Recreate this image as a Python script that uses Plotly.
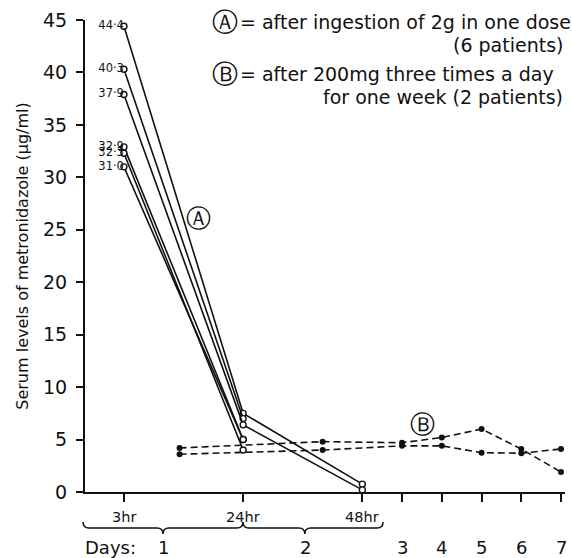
import plotly.graph_objects as go

# ---------------- data ----------------
# x axis units: 3hr=0, 24hr=3, 48hr=6, then one unit per day (day 3 = 7 ... day 7 = 11)
hr_labels = ["3hr", "24hr", "48hr"]
hr_x = [0, 3, 6]
day_labels = ["1", "2", "3", "4", "5", "6", "7"]
day_x = [1.0, 4.56, 7, 8, 9, 10, 11]

# Series A: 2 g single dose (6 patients)
a1_x = [0, 3, 6]; a1_y = [44.4, 7.5, 0.75]
a2_x = [0, 3];    a2_y = [40.3, 7.0]
a3_x = [0, 3, 6]; a3_y = [37.9, 6.4, 0.2]
a4_x = [0, 3];    a4_y = [32.9, 5.0]
a5_x = [0, 3];    a5_y = [32.3, 4.0]
a6_x = [0, 3];    a6_y = [31.0, 5.0]
a_start_labels = ["44·4", "40·3", "37·9", "32·9", "32·3", "31·0"]

# Series B: 200 mg t.i.d. for one week (2 patients)
b_x = [1.4, 5.0, 7, 8, 9, 10, 11]
b1_y = [4.2, 4.8, 4.7, 5.2, 6.0, 4.1, 1.9]
b2_y = [3.6, 4.0, 4.4, 4.4, 3.75, 3.7, 4.1]

y_ticks = [0, 5, 10, 15, 20, 25, 30, 35, 40, 45]

FONT = "DejaVu Sans"
BLACK = "#111111"

fig = go.Figure()

a_series = [(a1_x, a1_y), (a2_x, a2_y), (a3_x, a3_y),
            (a4_x, a4_y), (a5_x, a5_y), (a6_x, a6_y)]
for xs, ys in a_series:
    fig.add_trace(go.Scatter(
        x=xs, y=ys, mode="lines+markers",
        line=dict(color=BLACK, width=1.6),
        marker=dict(symbol="circle", size=6, color="white",
                    line=dict(color=BLACK, width=1.4)),
        cliponaxis=False, showlegend=False, hoverinfo="skip"))

# labels of the 3hr values
fig.add_trace(go.Scatter(
    x=[s[0][0] for s in a_series], y=[s[1][0] for s in a_series],
    mode="text", text=a_start_labels, textposition="middle left",
    textfont=dict(family=FONT, size=11.5, color=BLACK),
    cliponaxis=False, showlegend=False, hoverinfo="skip"))

for ys in (b1_y, b2_y):
    fig.add_trace(go.Scatter(
        x=b_x, y=ys, mode="lines+markers",
        line=dict(color=BLACK, width=1.6, dash="7px,4px"),
        marker=dict(symbol="circle", size=6, color=BLACK),
        cliponaxis=False, showlegend=False, hoverinfo="skip"))

# ---------------- axes ----------------
fig.update_xaxes(
    range=[-0.98, 11.1], showgrid=False, zeroline=False,
    showline=True, linecolor=BLACK, linewidth=2,
    ticks="outside", ticklen=8, tickwidth=2, tickcolor=BLACK,
    tickvals=hr_x + day_x[2:], ticktext=[""] * (len(hr_x) + len(day_x) - 2),
)
fig.update_yaxes(
    range=[0, 45], showgrid=False, zeroline=False,
    showline=True, linecolor=BLACK, linewidth=2,
    ticks="outside", ticklen=7, tickwidth=2, tickcolor=BLACK,
    tickvals=y_ticks, ticktext=[str(v) for v in y_ticks],
    tickfont=dict(family=FONT, size=19, color=BLACK),
    ticklabelstandoff=5,
    title=dict(text="Serum levels of metronidazole (µg/ml)",
               font=dict(family=FONT, size=16, color=BLACK), standoff=10),
)

ann = []
# hour labels under ticks
for lab, xv in zip(hr_labels, hr_x):
    ann.append(dict(x=xv, y=-0.053, xref="x", yref="paper", text=lab,
                    showarrow=False, xanchor="center", yanchor="middle",
                    font=dict(family=FONT, size=14.5, color=BLACK)))
# day labels
for lab, xv in zip(day_labels, day_x):
    ann.append(dict(x=xv, y=-0.1186, xref="x", yref="paper", text=lab,
                    showarrow=False, xanchor="center", yanchor="middle",
                    font=dict(family=FONT, size=18, color=BLACK)))
ann.append(dict(x=-0.004, y=-0.1186, xref="paper", yref="paper", text="Days:",
                showarrow=False, xanchor="left", yanchor="middle",
                font=dict(family=FONT, size=18, color=BLACK)))

# legend text
leg_font = dict(family=FONT, size=19, color=BLACK)
circ_font = dict(family=FONT, size=26, color=BLACK)
ann.append(dict(x=0.2604, y=0.9958, xref="paper", yref="paper", text="Ⓐ",
                showarrow=False, xanchor="left", yanchor="middle", font=circ_font))
ann.append(dict(x=0.319, y=0.9958, xref="paper", yref="paper",
                text="= after ingestion of 2g in one dose",
                showarrow=False, xanchor="left", yanchor="middle", font=leg_font))
ann.append(dict(x=1.0, y=0.947, xref="paper", yref="paper",
                text="(6 patients)",
                showarrow=False, xanchor="right", yanchor="middle", font=leg_font))
ann.append(dict(x=0.2604, y=0.8856, xref="paper", yref="paper", text="Ⓑ",
                showarrow=False, xanchor="left", yanchor="middle", font=circ_font))
ann.append(dict(x=0.319, y=0.8856, xref="paper", yref="paper",
                text="= after 200mg three times a day",
                showarrow=False, xanchor="left", yanchor="middle", font=leg_font))
ann.append(dict(x=1.0, y=0.8369, xref="paper", yref="paper",
                text="for one week (2 patients)",
                showarrow=False, xanchor="right", yanchor="middle", font=leg_font))

# series markers on the plot
ann.append(dict(x=1.87, y=26.1, xref="x", yref="y", text="Ⓐ", showarrow=False,
                font=dict(family=FONT, size=25, color=BLACK)))
ann.append(dict(x=7.51, y=6.4, xref="x", yref="y", text="Ⓑ", showarrow=False,
                font=dict(family=FONT, size=25, color=BLACK)))

# curly braces grouping the hour ticks into days
def brace(xa, xm, xb, yt=-0.0636, yb=-0.0763, yp=-0.089, d=0.0125):
    return (f"M {xa},{yt} Q {xa},{yb} {xa+d},{yb} L {xm-d},{yb} "
            f"Q {xm},{yb} {xm},{yp} Q {xm},{yb} {xm+d},{yb} "
            f"L {xb-d},{yb} Q {xb},{yb} {xb},{yt}")

shapes = [
    dict(type="path", xref="paper", yref="paper", path=brace(-0.004, 0.1625, 0.329),
         line=dict(color=BLACK, width=1.5)),
    dict(type="path", xref="paper", yref="paper", path=brace(0.329, 0.458, 0.621),
         line=dict(color=BLACK, width=1.5)),
]

fig.update_layout(
    width=572, height=558,
    margin=dict(l=85, r=7, t=20, b=66),
    paper_bgcolor="white", plot_bgcolor="white",
    annotations=ann, shapes=shapes,
    font=dict(family=FONT, color=BLACK),
)

fig.write_html("out.html",
               config={"displayModeBar": False},
               post_script="document.body.style.margin='0px';"
                           "document.body.style.overflow='hidden';")
